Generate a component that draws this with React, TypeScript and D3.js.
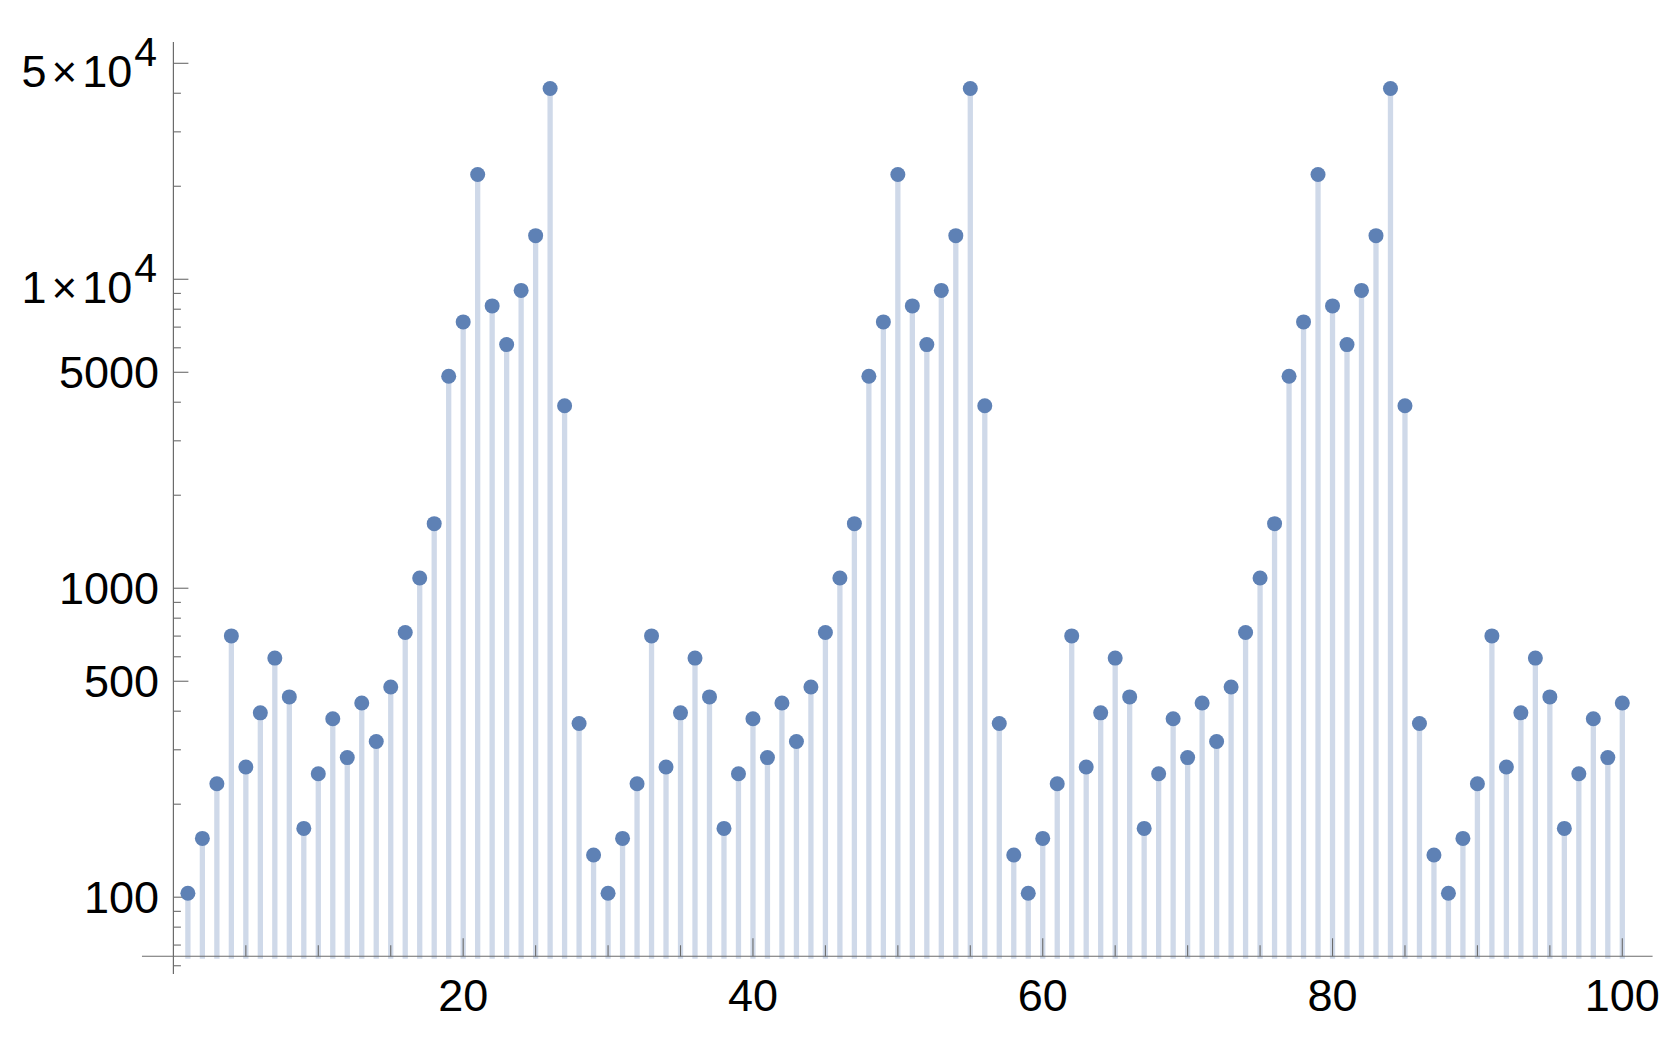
import React from 'react';
import * as d3 from 'd3';

// n = 1..100 (pattern repeats every 29 steps)
const values: number[] = [
  103, 155, 233, 701, 264, 395, 594, 445, 167, 251, 378, 283, 425, 319, 479, 719, 1079, 1618, 4853, 7278,
  21830, 8199, 6145, 9205, 13840, 41420, 3895, 365, 137,
  103, 155, 233, 701, 264, 395, 594, 445, 167, 251, 378, 283, 425, 319, 479, 719, 1079, 1618, 4853, 7278,
  21830, 8199, 6145, 9205, 13840, 41420, 3895, 365, 137,
  103, 155, 233, 701, 264, 395, 594, 445, 167, 251, 378, 283, 425, 319, 479, 719, 1079, 1618, 4853, 7278,
  21830, 8199, 6145, 9205, 13840, 41420, 3895, 365, 137,
  103, 155, 233, 701, 264, 395, 594, 445, 167, 251, 378, 283, 425,
];
const xs: number[] = values.map((_, i) => i + 1);

const xMajorTicks = [20, 40, 60, 80, 100];
const xMinorTicks = [5, 10, 15, 25, 30, 35, 45, 50, 55, 65, 70, 75, 85, 90, 95];
const yMajorTicks = [100, 500, 1000, 5000, 10000, 50000];
const yMinorTicks = [
  60, 70, 80, 90, 200, 300, 400, 600, 700, 800, 900, 2000, 3000, 4000,
  6000, 7000, 8000, 9000, 20000, 30000, 40000,
];
// plain labels, or mantissa + exponent for the scientific ones
const yLabels: { v: number; text: string; exp?: string }[] = [
  { v: 100, text: '100' },
  { v: 500, text: '500' },
  { v: 1000, text: '1000' },
  { v: 5000, text: '5000' },
  { v: 10000, text: '1', exp: '4' },
  { v: 50000, text: '5', exp: '4' },
];

const W = 1680;
const H = 1040;
const axisColor = '#6b6b6b';
const dotColor = '#5e81b5';
const stemColor = '#cfd9e9';
const font = '"Liberation Sans", Arial, sans-serif';

const x = d3.scaleLinear().domain([0, 100]).range([173.4, 1622.3]);
const y = d3.scaleLog().domain([100, 50000]).range([897.2, 63.3]);

// plot range edges
const xMin = -2.17;
const xMax = 102.09;
const yOrigin = 64.4;
const yBottom = 56.4;
const yTop = 58600;

export default function App() {
  const axisY = y(yOrigin);
  const axisX = x(0);
  return (
    <svg
      width={W}
      height={H}
      style={{ position: 'absolute', left: 0, top: 0, background: '#fff' }}
      fontFamily={font}
    >
      {/* stems */}
      <g>
        {xs.map((n, i) => (
          <line
            key={'s' + n}
            x1={x(n)}
            x2={x(n)}
            y1={y(values[i])}
            y2={axisY + 2.5}
            stroke={stemColor}
            strokeWidth={5.3}
          />
        ))}
      </g>

      {/* x axis */}
      <line x1={x(xMin)} x2={x(xMax)} y1={axisY} y2={axisY} stroke={axisColor} strokeWidth={1.2} />
      {xMajorTicks.map((t) => (
        <line key={'xM' + t} x1={x(t)} x2={x(t)} y1={axisY} y2={axisY - 18} stroke={axisColor} strokeWidth={1.1} />
      ))}
      {xMinorTicks.map((t) => (
        <line key={'xm' + t} x1={x(t)} x2={x(t)} y1={axisY} y2={axisY - 11} stroke={axisColor} strokeWidth={1.1} />
      ))}
      {xMajorTicks.map((t) => (
        <text key={'xl' + t} x={x(t)} y={1010.7} textAnchor="middle" fontSize={45} fill="#000">
          {t}
        </text>
      ))}

      {/* y axis */}
      <line x1={axisX} x2={axisX} y1={y(yBottom)} y2={y(yTop)} stroke={axisColor} strokeWidth={1.2} />
      {yMajorTicks.map((t) => (
        <line key={'yM' + t} x1={axisX} x2={axisX + 15} y1={y(t)} y2={y(t)} stroke={axisColor} strokeWidth={1.1} />
      ))}
      {yMinorTicks.map((t) => (
        <line key={'ym' + t} x1={axisX} x2={axisX + 7.5} y1={y(t)} y2={y(t)} stroke={axisColor} strokeWidth={1.1} />
      ))}
      {yLabels.map((l) =>
        l.exp ? (
          <text key={'yl' + l.v} x={157} y={y(l.v) + 23.5} textAnchor="end" fontSize={45} fill="#000">
            <tspan>{l.text}</tspan>
            <tspan dx={5} fontSize={44}>×</tspan>
            <tspan dx={5} fontSize={45}>10</tspan>
            <tspan dx={2} dy={-21} fontSize={41}>
              {l.exp}
            </tspan>
          </text>
        ) : (
          <text key={'yl' + l.v} x={159} y={y(l.v) + 16} textAnchor="end" fontSize={45} fill="#000">
            {l.text}
          </text>
        )
      )}

      {/* points */}
      <g>
        {xs.map((n, i) => (
          <circle key={'p' + n} cx={x(n)} cy={y(values[i])} r={7.5} fill={dotColor} />
        ))}
      </g>
    </svg>
  );
}
